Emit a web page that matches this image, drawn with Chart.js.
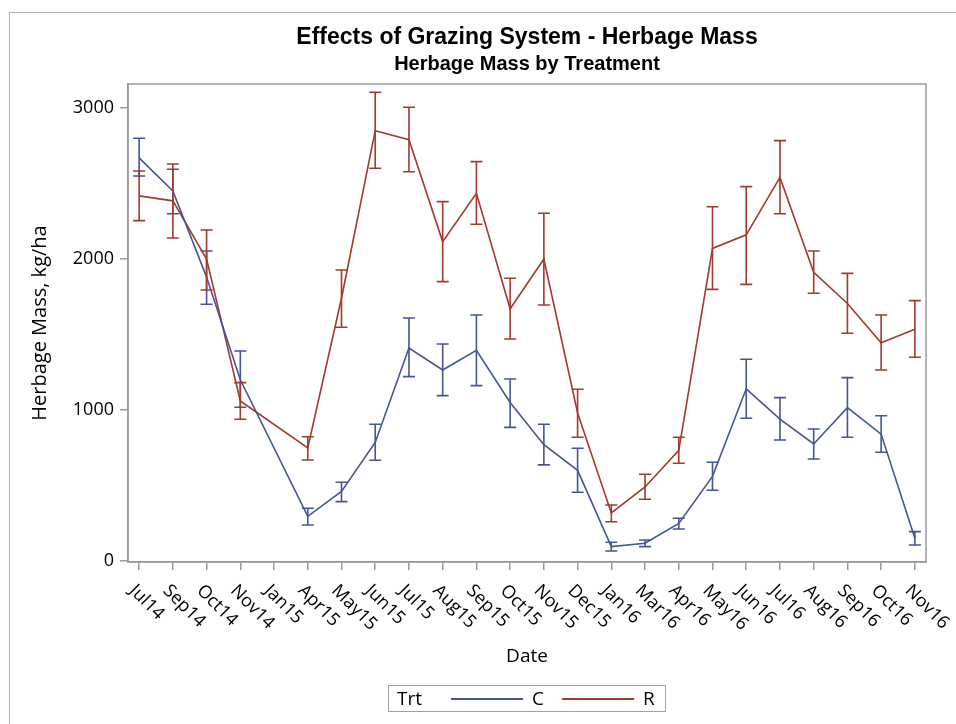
<!DOCTYPE html>
<html>
<head>
<meta charset="utf-8">
<script src="https://cdn.jsdelivr.net/npm/chart.js@4.4.1/dist/chart.umd.min.js"></script>
<style>
  body { margin: 0; background: #fff; }
  #wrap { position: relative; width: 956px; height: 724px; overflow: hidden; }
  #frame { position: absolute; left: 9px; top: 12px; width: 1000px; height: 800px;
           border-left: 1.5px solid #b0b0b0; border-top: 1.5px solid #b0b0b0; }
  #chart { position: absolute; left: 0; top: 0; }
  #legend { position: absolute; left: 388px; top: 685px; width: 276px; height: 25px;
            border: 1.5px solid #a0a0a0; font: 19px "Open Sans"; color: #000; }
  #legend span { position: absolute; top: 0px; line-height: 25px; }
  #legend i { position: absolute; top: 12px; height: 0; border-top: 2px solid; }
</style>
</head>
<body>
<div id="wrap">
  <div id="frame"></div>
  <canvas id="chart" width="956" height="724"></canvas>
  <div id="legend"></div>
</div>
<script>
// x categories
const dates = ['Jul14', 'Sep14', 'Oct14', 'Nov14', 'Jan15', 'Apr15', 'May15', 'Jun15',
  'Jul15', 'Aug15', 'Sep15', 'Oct15', 'Nov15', 'Dec15', 'Jan16', 'Mar16', 'Apr16',
  'May16', 'Jun16', 'Jul16', 'Aug16', 'Sep16', 'Oct16', 'Nov16'];

// Trt C: mean, lower and upper error bar
const cMean = [2670, 2450, 1880, 1200, null, 295, 460, 785, 1410, 1265, 1395, 1050, 770, 600, 95, 117, 248, 560, 1140, 940, 775, 1015, 840, 150];
const cLow = [2550, 2300, 1700, 1018, null, 238, 393, 667, 1221, 1095, 1161, 885, 636, 455, 66, 95, 212, 468, 945, 801, 675, 819, 720, 106];
const cHigh = [2800, 2594, 2053, 1391, null, 349, 521, 905, 1609, 1437, 1629, 1205, 905, 746, 124, 139, 283, 654, 1336, 1082, 874, 1214, 962, 194];

// Trt R
const rMean = [2418, 2385, 2000, 1060, null, 748, 1740, 2850, 2790, 2115, 2435, 1670, 2000, 980, 318, 490, 733, 2070, 2160, 2540, 1912, 1705, 1445, 1535];
const rLow = [2254, 2139, 1795, 938, null, 669, 1548, 2601, 2578, 1850, 2230, 1470, 1695, 819, 260, 409, 647, 1799, 1832, 2300, 1773, 1508, 1265, 1349];
const rHigh = [2583, 2629, 2192, 1181, null, 823, 1927, 3104, 3005, 2380, 2645, 1872, 2303, 1137, 371, 574, 819, 2346, 2479, 2784, 2053, 1905, 1629, 1724];

const yTicks = [0, 1000, 2000, 3000];

const blue = '#445694';
const red = '#a23a2e';
const axisGray = '#9a9a9a';
const sans = '"Open Sans", "Noto Sans", sans-serif';

const toPoints = arr => arr.map((v, i) => ({ x: i, y: v }));

// error bars drawn from the low/high arrays through the scales
const errorBars = {
  id: 'errorBars',
  afterDatasetsDraw(chart) {
    const ctx = chart.ctx;
    const yScale = chart.scales.y;
    chart.data.datasets.forEach((ds, di) => {
      const meta = chart.getDatasetMeta(di);
      ctx.save();
      ctx.strokeStyle = ds.borderColor;
      ctx.lineWidth = 1.6;
      ds.data.forEach((p, i) => {
        if (p.y == null) return;
        const x = meta.data[i].x;
        const y1 = yScale.getPixelForValue(ds.errLow[i]);
        const y2 = yScale.getPixelForValue(ds.errHigh[i]);
        ctx.beginPath();
        ctx.moveTo(x, y1); ctx.lineTo(x, y2);
        ctx.moveTo(x - 6, y1); ctx.lineTo(x + 6, y1);
        ctx.moveTo(x - 6, y2); ctx.lineTo(x + 6, y2);
        ctx.stroke();
      });
      ctx.restore();
    });
  }
};

// box around plot area + rotated date labels
const frameAndLabels = {
  id: 'frameAndLabels',
  afterDraw(chart) {
    const { ctx, chartArea: a } = chart;
    const xScale = chart.scales.x;
    ctx.save();
    ctx.strokeStyle = axisGray;
    ctx.lineWidth = 1.5;
    ctx.strokeRect(a.left, a.top, a.right - a.left, a.bottom - a.top);
    ctx.fillStyle = '#000';
    ctx.font = '18px ' + sans;
    ctx.textAlign = 'left';
    ctx.textBaseline = 'middle';
    dates.forEach((d, i) => {
      const x = xScale.getPixelForValue(i);
      ctx.save();
      ctx.translate(x - 7, a.bottom + 26);
      ctx.rotate(Math.PI / 4);
      ctx.fillText(d, 0, 0);
      ctx.restore();
    });
    ctx.restore();
  }
};

const chart = new Chart(document.getElementById('chart'), {
  type: 'line',
  data: {
    datasets: [
      { label: 'C', data: toPoints(cMean), errLow: cLow, errHigh: cHigh,
        borderColor: blue, backgroundColor: blue, borderWidth: 1.6,
        pointRadius: 0, spanGaps: true, tension: 0 },
      { label: 'R', data: toPoints(rMean), errLow: rLow, errHigh: rHigh,
        borderColor: red, backgroundColor: red, borderWidth: 1.6,
        pointRadius: 0, spanGaps: true, tension: 0 }
    ]
  },
  options: {
    responsive: false,
    animation: false,
    devicePixelRatio: 1,
    layout: { padding: { left: 0, right: 30, top: 0, bottom: 42 } },
    plugins: {
      legend: { display: false },
      tooltip: { enabled: false },
      title: {
        display: true, fullSize: false,
        text: 'Effects of Grazing System - Herbage Mass',
        color: '#000',
        font: { family: '"Liberation Sans", Arial, sans-serif', size: 23, weight: 'bold', lineHeight: 1 },
        padding: { top: 26, bottom: 4 }
      },
      subtitle: {
        display: true, fullSize: false,
        text: 'Herbage Mass by Treatment',
        color: '#000',
        font: { family: '"Liberation Sans", Arial, sans-serif', size: 20, weight: 'bold', lineHeight: 1 },
        padding: { top: 1, bottom: 10 }
      }
    },
    scales: {
      x: {
        type: 'linear',
        min: -0.33, max: 23.33,
        afterBuildTicks: s => { s.ticks = dates.map((d, i) => ({ value: i })); },
        afterFit: s => { s.height = 120; },
        ticks: { display: false },
        grid: { drawOnChartArea: false, drawTicks: true, tickLength: 8, color: axisGray, lineWidth: 1.5 },
        border: { display: true, color: axisGray, width: 1.5 },
        title: { display: true, text: 'Date', color: '#000', font: { family: sans, size: 19 }, padding: { bottom: 14 } }
      },
      y: {
        type: 'linear',
        min: -7, max: 3159,
        afterBuildTicks: s => { s.ticks = yTicks.map(v => ({ value: v })); },
        afterFit: s => { s.width = 128; },
        ticks: { color: '#000', font: { family: sans, size: 18 }, padding: 6, callback: v => String(v) },
        grid: { drawOnChartArea: false, drawTicks: true, tickLength: 8, color: axisGray, lineWidth: 1.5 },
        border: { display: true, color: axisGray, width: 1.5 },
        title: { display: true, text: 'Herbage Mass, kg/ha', color: '#000', font: { family: sans, size: 20 }, padding: { top: 28 } }
      }
    }
  },
  plugins: [errorBars, frameAndLabels]
});

// legend built from the datasets
const legend = document.getElementById('legend');
legend.innerHTML = '<span style="left:8px">Trt</span>';
const lineX = [62, 173];
chart.data.datasets.forEach((ds, i) => {
  legend.innerHTML += '<i style="left:' + lineX[i] + 'px;width:72px;border-color:' + ds.borderColor + '"></i>' +
    '<span style="left:' + (lineX[i] + 81) + 'px">' + ds.label + '</span>';
});
</script>
</body>
</html>
